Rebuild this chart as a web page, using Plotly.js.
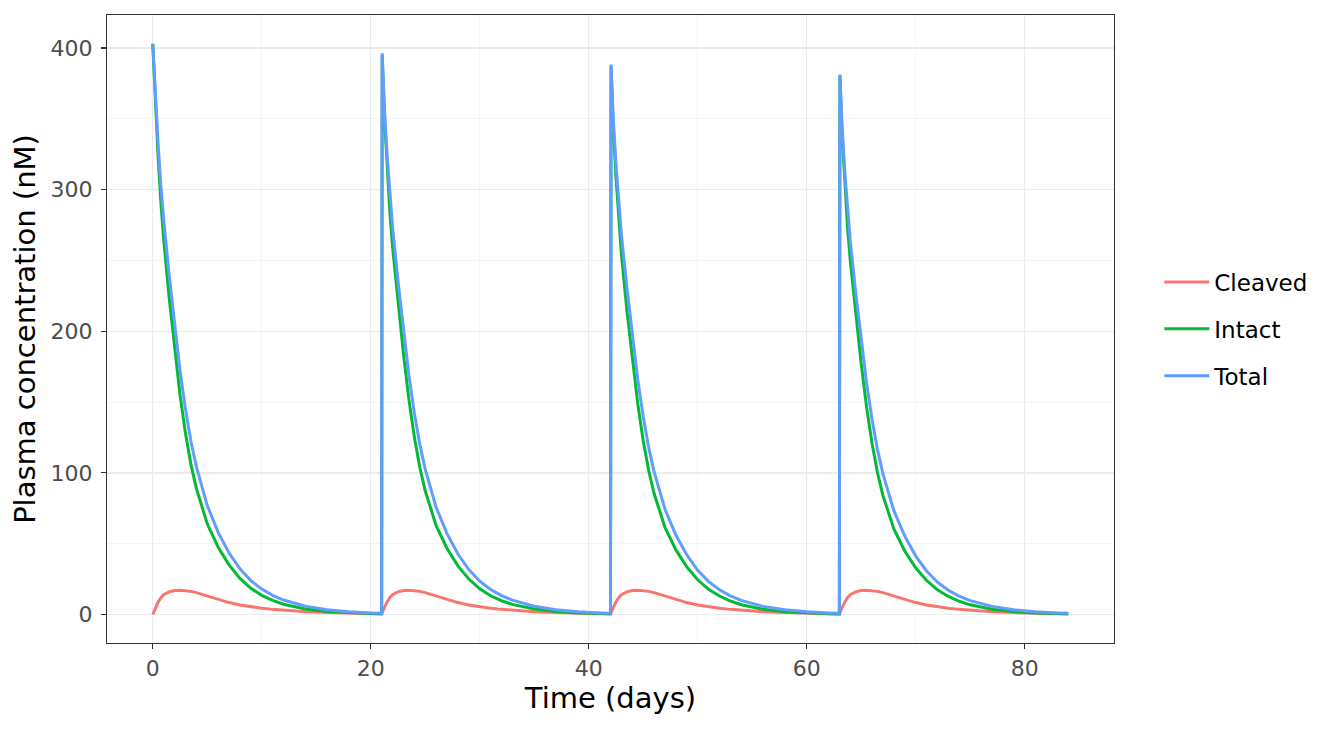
<!DOCTYPE html>
<html>
<head>
<meta charset="utf-8">
<script src="https://cdn.plot.ly/plotly-3.0.1.min.js"></script>
<style>
  body { margin: 0; background: #fff; }
  #myPlot { width: 1344px; height: 729px; }
</style>
</head>
<body>
<div id="myPlot"></div>
<script>
// time points (days), four doses every 21 days
const time = [
  0, 0.25, 0.5, 0.75, 1, 1.5, 2, 2.5, 3, 3.5, 4, 5, 6, 7, 8, 9, 10, 11, 12, 14, 16, 18, 20, 21,
  21.05, 21.25, 21.5, 21.75, 22, 22.5, 23, 23.5, 24, 24.5, 25, 26, 27, 28, 29, 30, 31, 32, 33, 35, 37, 39, 41, 42,
  42.05, 42.25, 42.5, 42.75, 43, 43.5, 44, 44.5, 45, 45.5, 46, 47, 48, 49, 50, 51, 52, 53, 54, 56, 58, 60, 62, 63,
  63.05, 63.25, 63.5, 63.75, 64, 64.5, 65, 65.5, 66, 66.5, 67, 68, 69, 70, 71, 72, 73, 74, 75, 77, 79, 81, 83, 84
];

const cleaved = [
  0, 4.8, 8.8, 11.8, 13.9, 16.0, 16.9, 17.1, 16.9, 16.3, 15.4, 12.9, 10.5, 8.4, 6.7, 5.4, 4.4, 3.6, 3.0, 2.0, 1.3, 0.8, 0.5, 0.4,
  1.3, 5.0, 8.9, 11.9, 14.0, 16.0, 16.9, 17.1, 16.9, 16.3, 15.4, 12.9, 10.5, 8.4, 6.7, 5.4, 4.4, 3.6, 3.0, 2.0, 1.3, 0.8, 0.5, 0.4,
  1.3, 5.0, 8.9, 11.9, 14.0, 16.0, 16.9, 17.1, 16.9, 16.3, 15.4, 12.9, 10.5, 8.4, 6.7, 5.4, 4.4, 3.6, 3.0, 2.0, 1.3, 0.8, 0.5, 0.4,
  1.3, 5.0, 8.9, 11.9, 14.0, 16.0, 16.9, 17.1, 16.9, 16.3, 15.4, 12.9, 10.5, 8.4, 6.7, 5.4, 4.4, 3.6, 3.0, 2.0, 1.3, 0.8, 0.5, 0.4
];

const intact = [
  403, 360, 322, 290, 265, 224, 188, 155, 128, 106, 89, 64, 47.5, 35, 25.5, 18.5, 13.5, 9.9, 7.2, 3.9, 2.1, 1.1, 0.6, 0.45,
  395, 352.8, 315.6, 284.2, 259.7, 219.5, 184.2, 151.9, 125.4, 103.9, 87.2, 62.7, 46.6, 34.3, 25.0, 18.1, 13.2, 9.7, 7.1, 3.8, 2.1, 1.1, 0.6, 0.45,
  387, 345.6, 309.1, 278.4, 254.4, 215, 180.5, 148.8, 122.9, 101.8, 85.4, 61.4, 45.6, 33.6, 24.5, 17.8, 13.0, 9.5, 6.9, 3.7, 2.0, 1.06, 0.58, 0.43,
  380, 339.5, 303.6, 273.5, 249.9, 211.2, 177.3, 146.2, 120.7, 100, 83.9, 60.4, 44.8, 33.0, 24.0, 17.4, 12.7, 9.3, 6.8, 3.7, 2.0, 1.04, 0.57, 0.42
];

const total = [
  403, 364.8, 330.8, 301.8, 278.9, 240, 204.9, 172.1, 144.9, 122.3, 104.4, 76.9, 58, 43.4, 32.2, 23.9, 17.9, 13.5, 10.2, 5.9, 3.4, 1.9, 1.1, 0.85,
  396.3, 357.8, 324.5, 296.1, 273.7, 235.5, 201.1, 169, 142.3, 120.2, 102.6, 75.6, 57.1, 42.7, 31.7, 23.5, 17.6, 13.3, 10.1, 5.8, 3.4, 1.9, 1.1, 0.85,
  388.3, 350.6, 318, 290.3, 268.4, 231, 197.4, 165.9, 139.8, 118.1, 100.8, 74.3, 56.1, 42, 31.2, 23.2, 17.4, 13.1, 9.9, 5.7, 3.3, 1.86, 1.08, 0.83,
  381.3, 344.5, 312.5, 285.4, 263.9, 227.2, 194.2, 163.3, 137.6, 116.3, 99.3, 73.3, 55.3, 41.4, 30.7, 22.8, 17.1, 12.9, 9.8, 5.7, 3.3, 1.84, 1.07, 0.82
];

const seriesNames = ['Cleaved', 'Intact', 'Total'];
const seriesColors = ['#F8766D', '#00BA38', '#619CFF'];

const xTicks = [0, 20, 40, 60, 80];
const yTicks = [0, 100, 200, 300, 400];

const font = 'DejaVu Sans, sans-serif';

let data = [cleaved, intact, total].map(function (y, i) {
  return {
    x: time,
    y: y,
    name: seriesNames[i],
    legendgroup: seriesNames[i],
    type: 'scatter',
    mode: 'lines',
    line: { color: seriesColors[i], width: 3 }
  };
});

let layout = {
  width: 1344,
  height: 729,
  paper_bgcolor: '#ffffff',
  plot_bgcolor: '#ffffff',
  margin: { l: 107, r: 230, t: 15, b: 86 },
  font: { family: font, color: '#4D4D4D' },
  showlegend: true,
  legend: {
    x: 1.045,
    xanchor: 'left',
    y: 0.5,
    yanchor: 'middle',
    font: { family: font, size: 23, color: '#000000' },
    tracegroupgap: 14,
    itemwidth: 45,
    bgcolor: 'rgba(0,0,0,0)'
  },
  xaxis: {
    range: [-4.2, 88.2],
    tickvals: xTicks,
    ticktext: xTicks.map(String),
    ticks: 'outside',
    ticklen: 5,
    tickwidth: 1.1,
    tickcolor: '#333333',
    tickfont: { family: font, size: 22, color: '#4D4D4D' },
    showgrid: true,
    gridcolor: '#EBEBEB',
    gridwidth: 1.4,
    minor: { dtick: 10, tick0: 0, showgrid: true, gridcolor: '#F2F2F2', gridwidth: 0.8, ticks: '' },
    zeroline: false,
    showline: true,
    mirror: true,
    linecolor: '#333333',
    linewidth: 1.1,
    title: { text: 'Time (days)', font: { family: font, size: 29, color: '#000000' }, standoff: 4 }
  },
  yaxis: {
    range: [-20.15, 423.3],
    tickvals: yTicks,
    ticktext: yTicks.map(String),
    ticks: 'outside',
    ticklen: 5,
    tickwidth: 1.1,
    tickcolor: '#333333',
    ticklabelstandoff: 4,
    tickfont: { family: font, size: 22, color: '#4D4D4D' },
    showgrid: true,
    gridcolor: '#EBEBEB',
    gridwidth: 1.4,
    minor: { dtick: 50, tick0: 0, showgrid: true, gridcolor: '#F2F2F2', gridwidth: 0.8, ticks: '' },
    zeroline: false,
    showline: true,
    mirror: true,
    linecolor: '#333333',
    linewidth: 1.1,
    title: { text: 'Plasma concentration (nM)', font: { family: font, size: 29, color: '#000000' }, standoff: 6 }
  }
};

Plotly.newPlot('myPlot', data, layout, { displayModeBar: false, staticPlot: true });
</script>
</body>
</html>
